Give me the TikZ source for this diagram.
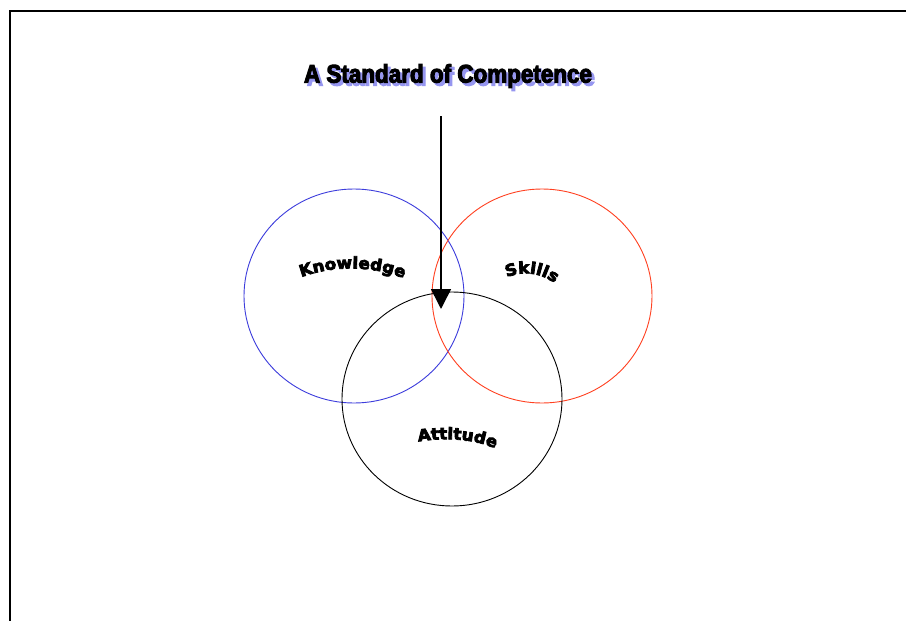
\documentclass[tikz,border=0pt]{standalone}
\usepackage{fontspec}
\setmainfont{Liberation Sans}
\newfontfamily\titlefont{Liberation Sans Bold}[FakeBold=4, FakeStretch=0.88]
\newfontfamily\heavy{DejaVu Sans Bold}[FakeBold=5, FakeStretch=1.05]
\usetikzlibrary{arrows.meta,decorations.text}
\definecolor{shadowblue}{RGB}{150,150,240}
\definecolor{skillred}{RGB}{255,64,32}
\definecolor{knowblue}{RGB}{60,60,220}
\tikzset{
  ring/.style={line width=0.9pt},
  titletext/.style={font=\titlefont\fontsize{25.5}{28}\selectfont},
  curvelabel/.style={decorate, decoration={text along path, text align=center, text={|\heavy\fontsize{16}{18}\selectfont|#1}}},
}
\begin{document}
\begin{tikzpicture}[x=1pt,y=-1pt]
\useasboundingbox (0,0) rectangle (906,621);
\fill[white] (0,0) rectangle (906,621);
% frame
\draw[line width=2pt] (10,621) -- (10,11) -- (906,11);
% title
\node[titletext, text=shadowblue] (titleshadow) at (451,79) {A Standard of Competence};
\node[titletext] (title) at (448,76) {A Standard of Competence};
% circles
\draw[ring, knowblue] (354,296) ellipse [x radius=110, y radius=107];
\draw[ring, skillred] (542,296) ellipse [x radius=110, y radius=107];
\draw[ring, black] (452,399) ellipse [x radius=110, y radius=107];
% arrow
\coordinate (astart) at (441,116);
\coordinate (aend) at (441,309);
\draw[line width=1.6pt, -{Triangle[length=20pt,width=20pt]}] (astart) -- (aend);
% curved labels
\path[curvelabel={Knowledge}]
  (299,278) .. controls (333,265) and (371,265) .. (406,279);
\path[curvelabel={Skills}]
  (497,283) .. controls (514,270) and (543,268) .. (563,291);
\path[curvelabel={Attitude}]
  (410,443) .. controls (440,437) and (475,437) .. (503,452);
\end{tikzpicture}
\end{document}
